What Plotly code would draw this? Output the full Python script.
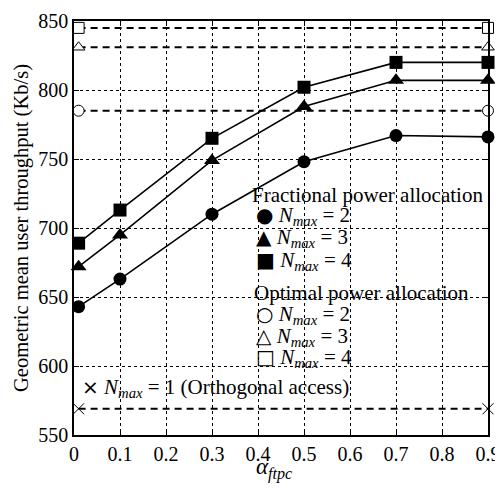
import plotly.graph_objects as go

alpha = [0.01, 0.1, 0.3, 0.5, 0.7, 0.9]
frac_n2 = [643, 663, 710, 748, 767, 766]
frac_n3 = [672, 695, 749, 788, 807, 807]
frac_n4 = [689, 713, 765, 802, 820, 820]
opt_x = [0.01, 0.9]
opt_n2 = 785
opt_n3 = 831
opt_n4 = 845
orth_n1 = 569
x_ticks = [0, 0.1, 0.2, 0.3, 0.4, 0.5, 0.6, 0.7, 0.8, 0.9]
y_ticks = [550, 600, 650, 700, 750, 800, 850]

FONT = "Liberation Serif, Times New Roman, serif"
fig = go.Figure()

# optimal / orthogonal dashed reference lines
for val, sym in [(opt_n4, "square"), (opt_n3, "triangle-up"),
                 (opt_n2, "circle"), (orth_n1, "x-thin")]:
    fig.add_trace(go.Scatter(
        x=opt_x, y=[val, val], mode="lines+markers",
        line=dict(color="black", width=2, dash="7px,5px"),
        marker=dict(symbol=sym, size=11, color="white",
                    line=dict(color="black", width=1)),
        showlegend=False, cliponaxis=False))

for ys, sym, sz in [(frac_n4, "square", 13), (frac_n3, "triangle-up", 14), (frac_n2, "circle", 13)]:
    fig.add_trace(go.Scatter(
        x=alpha, y=ys, mode="lines+markers",
        line=dict(color="black", width=1.6),
        marker=dict(symbol=sym, size=sz, color="black"),
        showlegend=False, cliponaxis=False))

nm = "<i>N</i><sub><i>max</i></sub> = "
def sym(s):
    return "<span style='font-family:DejaVu Sans;font-size:20px'>" + s + "</span> "
L, R, T, B = 74, 488, 21, 435
ann = [
    (250, 195, "Fractional power allocation", "left", 21),
    (254, 216, sym("●") + nm + "2", "left", 21),
    (254, 238, sym("▲") + nm + "3", "left", 21),
    (254, 261, sym("■") + nm + "4", "left", 21),
    (252, 293, "Optimal power allocation", "left", 21),
    (254, 315, sym("○") + nm + "2", "left", 21),
    (254, 337, sym("△") + nm + "3", "left", 21),
    (254, 358, sym("□") + nm + "4", "left", 21),
    (80, 388, sym("×") + nm + "1 (Orthogonal access)", "left", 21),
    (274, 469, "<i>α</i><sub><i>ftpc</i></sub>", "center", 23),
]
for px, py, txt, xa, fs in ann:
    fig.add_annotation(x=(px - L) / (R - L), y=(B - py) / (B - T), xref="paper", yref="paper",
                       text=txt, showarrow=False, xanchor=xa, yanchor="middle",
                       font=dict(family=FONT, size=fs, color="black"))

axis_common = dict(
    showline=True, linecolor="black", linewidth=1.5, mirror="ticks",
    ticks="inside", ticklen=5, tickcolor="black", automargin=False,
    showgrid=True, gridcolor="black", gridwidth=1, griddash="dot",
    zeroline=False, tickfont=dict(family=FONT, size=20, color="black"),
    ticklabeloverflow="allow",
)
fig.update_xaxes(range=[0, 0.9], tickvals=x_ticks, ticktext=[("%g" % v) for v in x_ticks],
                 **axis_common)
fig.update_yaxes(range=[550, 850], tickvals=y_ticks,
                 title=dict(text="Geometric mean user throughput (Kb/s)", font=dict(family=FONT, size=20.5, color="black"), standoff=4),
                 **axis_common)
# page body has an 8px default margin, so size the figure accordingly
fig.update_layout(width=495, height=482, margin=dict(l=66, r=15, t=13, b=55),
                  plot_bgcolor="white", paper_bgcolor="white", showlegend=False)
fig.write_html("out.html")
